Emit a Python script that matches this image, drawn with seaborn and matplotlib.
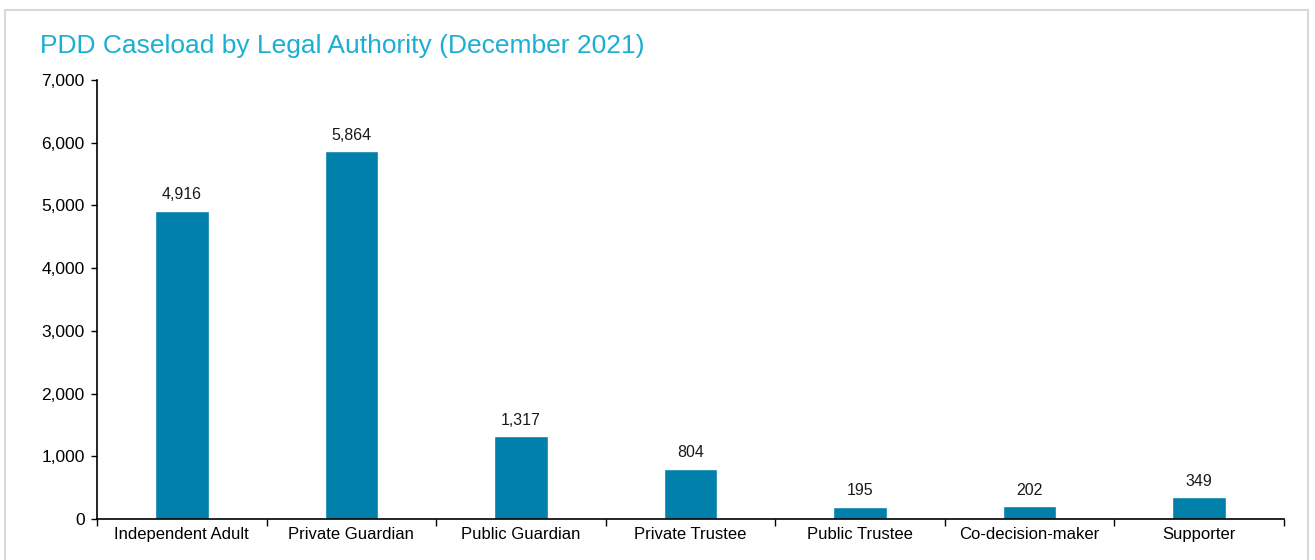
import matplotlib
matplotlib.use("Agg")
import matplotlib.pyplot as plt
from matplotlib.patches import Rectangle
import pandas as pd
import seaborn as sns

# data
categories = ["Independent Adult", "Private Guardian", "Public Guardian", "Private Trustee",
              "Public Trustee", "Co-decision-maker", "Supporter"]
caseload = [4916, 5864, 1317, 804, 195, 202, 349]
y_ticks = [0, 1000, 2000, 3000, 4000, 5000, 6000, 7000]

BAR_COLOR = "#0080AA"
TITLE_COLOR = "#1AAFD3"

sns.set_theme(style="white")
plt.rcParams["font.family"] = ["Liberation Sans", "DejaVu Sans"]

df = pd.DataFrame({"Legal Authority": categories, "Caseload": caseload})

fig = plt.figure(figsize=(13.15, 5.6), dpi=100)
ax = fig.add_axes([0.0738, 0.0732, 0.9026, 0.7838])

sns.barplot(data=df, x="Legal Authority", y="Caseload", color=BAR_COLOR,
            width=0.315, saturation=1, ax=ax)

for i, v in enumerate(caseload):
    ax.annotate(f"{v:,}", (i, v), xytext=(0, 6), textcoords="offset points",
                ha="center", va="bottom", fontsize=11.5, color="#1a1a1a")

ax.set_ylim(0, 7000)
ax.set_xlim(-0.5, len(categories) - 0.5)
ax.set_yticks(y_ticks)
ax.set_yticklabels([f"{t:,}" for t in y_ticks], fontsize=12.5)
ax.set_xlabel("")
ax.set_ylabel("")
ax.tick_params(axis="x", length=0, labelsize=12, pad=6, labelcolor="#000000")
ax.tick_params(axis="y", length=4, width=1, direction="out", left=True, pad=5,
               labelcolor="#000000", color="#000000")

# category-boundary ticks on the x axis
ax.set_xticks([i - 0.5 for i in range(len(categories) + 1)], minor=True)
ax.tick_params(axis="x", which="minor", length=5, width=1, direction="out", bottom=True,
               color="#000000")

for side in ["top", "right"]:
    ax.spines[side].set_visible(False)
for side in ["left", "bottom"]:
    ax.spines[side].set_color("#000000")
    ax.spines[side].set_linewidth(1.2)

fig.text(0.0304, 0.918, "PDD Caseload by Legal Authority (December 2021)",
         fontsize=19, color=TITLE_COLOR, ha="left", va="center")

# light frame around the chart area
fig.patches.append(Rectangle((0.004, -0.05), 0.991, 1.032, transform=fig.transFigure,
                             fill=False, edgecolor="#D9D9D9", linewidth=1.5))

fig.savefig("out.png", dpi=100)
